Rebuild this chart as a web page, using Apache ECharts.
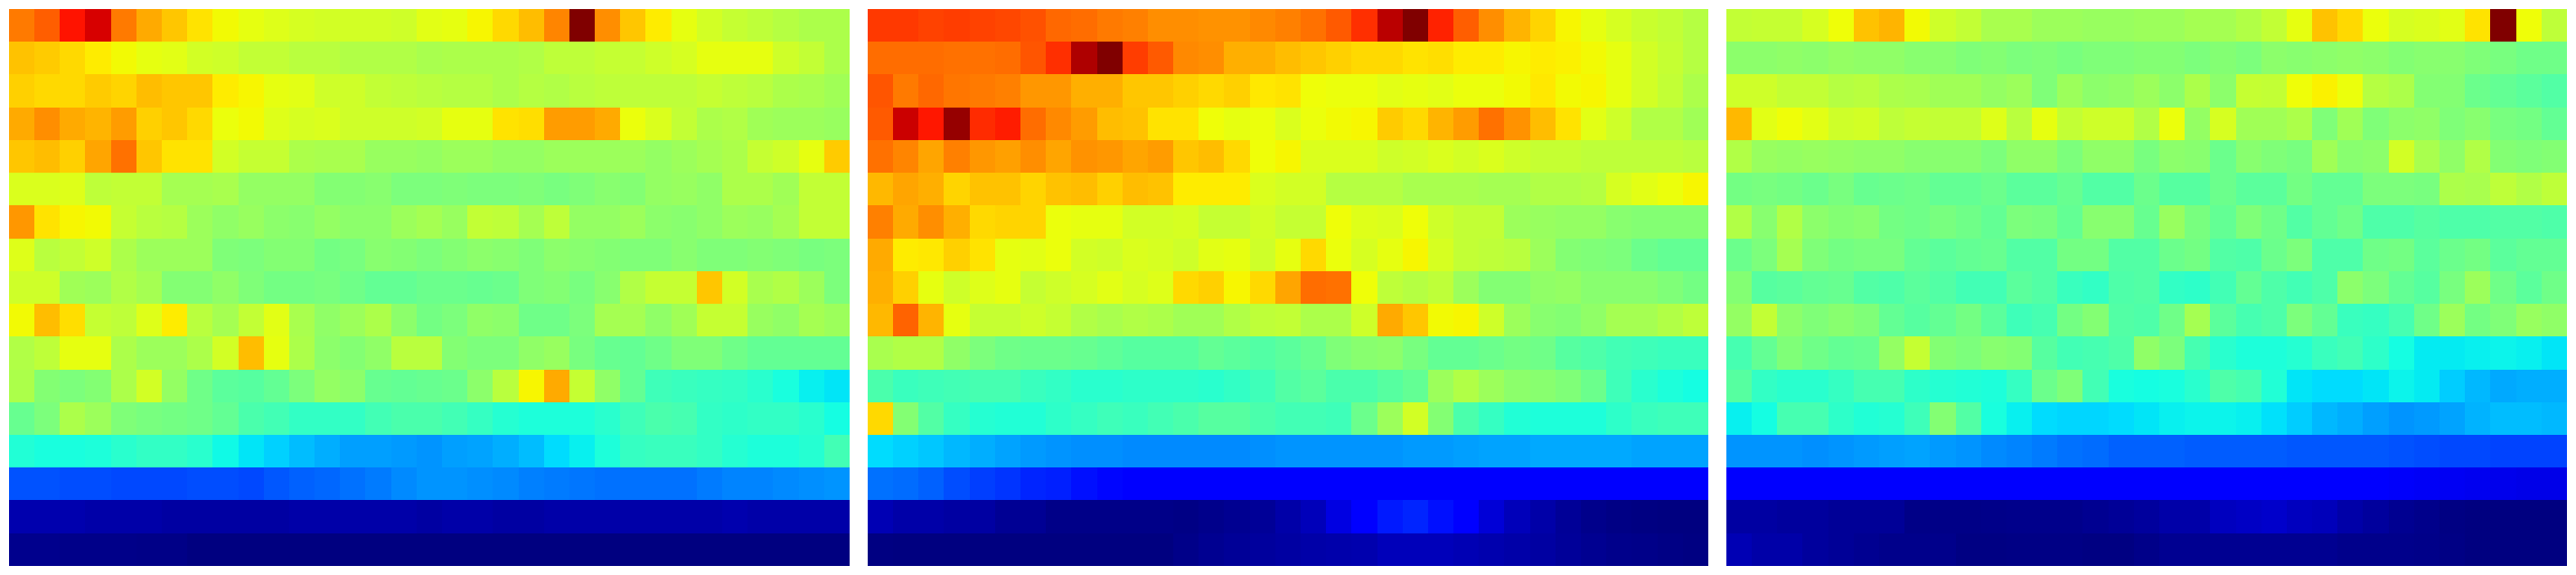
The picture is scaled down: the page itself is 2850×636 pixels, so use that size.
<!DOCTYPE html>
<html>
<head>
<meta charset="utf-8">
<style>html,body{margin:0;padding:0;background:#fff}#c{width:2850px;height:636px}</style>
<script src="https://cdn.jsdelivr.net/npm/echarts@6/dist/echarts.min.js"></script>
</head>
<body>
<div id="c"></div>
<script>
const valuesLeft = [
[78,81,89,92.5,78,73,70,67,64.5,63,62,61,60.5,60.5,60.5,60,62.5,63,65,68,71,77,100,76,70,66,63,60.5,59,58,57,56,56],
[70.5,69.5,68,66,64.5,63,62.5,60.5,60,58.5,58.5,57.5,57.5,56.5,56.5,56.5,55.5,56,56,56,56.5,58,58,59,59,60,61,63,63,63,60,58.5,56],
[69,68,68,69.5,68.5,71,70,70,66,65,63,62.5,60,60,58.5,58,57.5,57,57,56,57,56.5,57.5,58,58,58,58,59,58,57.5,56,55.5,54.5],
[73,76,73,72,74.5,69,70,68,63.5,64.5,62,61,61.5,60,60,60,60.5,63,63,67,67.5,74.5,74.5,73,63.5,61.5,58.5,56,56.5,54.5,54,54,53.5],
[70,71,69,73.5,79,70,67,67,60.5,59,59,56,55.5,55.5,53.5,53.5,53,54,54,53,53,54,54,54,54,53,54,55,56,59,60,63,69.5],
[61.5,61.5,62,58,58.5,58.5,55,55,55.5,53,53,53,51,51,51.5,50,50,50.5,50,50,50.5,49.5,50.5,51.5,51,53,53.5,52.5,56,56,54.5,58.5,58.5],
[75,67,65,64.5,59,57.5,57,54,52.5,53.5,52,51.5,53,52,52,54,55,53.5,58.5,58,55,58,53,53,54,52,51.5,52.5,54,53.5,55,58.5,58.5],
[62,57.5,58.5,60,56,54,54,54,50.5,50,51,51,49,49.5,51.5,51,50,51,52,51.5,50.5,52,51.5,51,50.5,50.5,51.5,50.5,50.5,51,50.5,49.5,50],
[60,60,54.5,54,56.5,55,51,51,52.5,50.5,49,49,49.5,48.5,47,47,48,48,47.5,48,50.5,51,49.5,51.5,56.5,59,59,70,60.5,55.5,56.5,54,50],
[64.5,71,67.5,59,58,62,66,57.5,55,58.5,62.5,55.5,52.5,54,56,52,49,50,52.5,52,48.5,48.5,50,55,55,52.5,54.5,59,59,53.5,52.5,55,54],
[56.5,58,63,63,56,54,54,56,60.5,71,63,56,52,51,52.5,57.5,57.5,51,50,50,52.5,53.5,49.5,47.5,47,48.5,50.5,50.5,48.5,47,47,47,47],
[56,51,50,51,56,60.5,53,48.5,46,45.5,47,50,53,52,47.5,47,47.5,48,52,57.5,65,73,59,52.5,47,42.5,42,41.5,41,40,38,36,35],
[47.5,50,56,54,50.5,49.5,49,48.5,47,44,43,41,41,41,43,44,44,43,41.5,39.5,38.5,38.5,38.5,40,42.5,44,43.5,41,40.5,41,41,40,37.5],
[39,38,38,38.5,40,41,41,40,37,35,33,31,29.5,28,28,27.5,27,28,28.5,29.5,31,34,36,38.5,41.5,42,42,41,39.5,38.5,38.5,39.5,43],
[20.5,20.5,20,20,19.5,19.5,19.5,20,20,19.5,21,22,22.5,23.5,24.5,26,27,27,26.5,26,25,24.5,24,23.5,23.5,23.5,23.5,24.5,25.5,25.5,26,26.5,27],
[4,4,4,3.5,3.5,3.5,3,3,3,3,3,3.5,3.5,3.5,3.5,3.5,3,3.5,3.5,3,3,3.5,3.5,3.5,3.5,3.5,3.5,3.5,4,3.5,3.5,3.5,3.5],
[1.2,1.2,0.8,0.8,0.8,0.6,0.6,0,0,0,0,0,0,0,0,0,0,0,0,0,0,0,0,0,0,0,0,0,0,0,0,0,0]
];

const valuesMiddle = [
[85,85,84,84.5,84,83.5,82.5,80,79.5,78,77.5,76,76,75.5,75.5,76.5,77.5,79,81.5,86,95,100,87.5,81,76,72,68.5,65,63,61,59.5,58.5,57],
[79.5,79.5,79.5,79,79,79.5,82,86,96,100,84.5,81.5,76.5,76,72.5,72.5,71,70,69,68,68,67,67.5,66,66,65,66,65.5,64.5,63,60.5,59,57],
[82,78,80,78.5,78,77.5,75,75,72.5,72.5,70,70,69,68,69,66.5,67,64,63.5,63.5,62.5,63,62.5,63.5,63.5,64.5,66.5,64.5,65,63,60.5,58.5,56],
[81.5,93.5,88.5,98,86.5,88,79.5,76.5,74.5,71,70.5,67,67,64,63,63.5,61.5,63.5,64.5,65,69.5,68,72,74.5,79,75.5,71,67,62.5,60,56.5,56.5,54.5],
[79,77,73.5,77.5,75,74,76,73.5,75.5,75,73.5,74.5,70,71,68,64,65,61.5,61.5,61.5,60,60.5,61.5,60.5,61.5,60,59,59,58,58,58,58,57.5],
[71.5,73.5,72.5,68.5,70.5,70.5,68.5,70.5,71,69,71,70.5,66,66,66,61.5,60.5,60.5,57,57,57,55.5,55.5,55.5,55,55,56.5,56.5,57,61,62.5,63.5,65],
[77.5,73,76,72.5,68,68.5,68.5,63.5,63,63,60.5,60.5,61,59,59,60.5,59,59,64,62,61.5,64,60,58.5,58.5,54,53.5,53,53,51.5,51,51,51],
[73,66,66.5,69,67,63,62.5,63.5,60.5,60,61.5,61,60,62.5,63,60,63,68,63.5,61,63,65,61,58.5,58,57.5,54,51,50.5,50,48,47,47],
[72.5,69,63,60,62,63,59,60,61,62.5,61,62,68,69,65,68,73.5,79.5,79,64,58,57,58,54,51,51,52.5,53,51.5,51.5,51.5,50.5,49],
[71.5,80.5,72,63,59,59,60,59,56.5,55.5,56.5,56,54.5,54.5,56.5,58,58.5,56,56,60,73,70,64.5,65,60,54,51.5,51,52.5,55,55,56.5,58],
[55.5,56.5,56.5,52.5,50,48.5,48,48,47.5,46.5,45.5,45.5,45.5,47,46,45,46,47.5,50.5,51.5,52,49.5,47,47,48,49,48.5,45.5,44.5,43,42.5,42,42],
[44,42,42.5,43,43.5,43.5,42,41,40,40,40.5,40.5,40.5,40,41,42.5,45,46,44,44,45.5,47,54,56.5,54,52,51.5,50.5,48,42.5,40,38.5,37.5],
[68,51,45,41.5,39.5,39,39,40.5,41.5,42.5,42,43,44,45.5,45.5,44,43,43,42.5,48,54,60.5,51,44,41.5,39,38.5,38.5,38.5,40.5,42,42.5,42.5],
[34,33,32,30.5,29.5,28.5,27.5,27,26.5,26.5,26,26,26,26,26,26.5,27,27,27,27,27,27.5,27.5,28,28.5,28.5,29,29,29,29,28.5,28.5,28.5],
[23.5,23,22,20,18.5,17.5,16,15.5,14,13,12.5,12.5,12.5,12.5,12.5,12.5,12.5,12.5,12.5,12.5,12.5,12.5,12.5,12.5,12.5,12.5,12.5,12.5,12.5,12.5,12.5,12.5,12.5],
[4.5,3.5,3.5,3,3,1.8,1.8,0.7,0.7,0.7,0.7,0.7,0.5,1,1.5,2,3.5,5,8.5,12.5,15,16,14,11,7.5,5,3.5,2,1,0.5,0.2,0,0],
[0.2,0,0,0,0,0,0,0,0,0,0,0,0.8,1.5,2,2.5,3,3.5,3.8,4,5,5,5,4.5,4,3.5,3,2.2,1.5,1,0.8,0.5,0.2]
];

const valuesRight = [
[58.5,59,59,61,64,70.5,72,64.5,60,58.5,55.5,55.5,54,54,53.5,53.5,54,54,55,55,56.5,58.5,63,70.5,68,63.5,61,61.5,62.5,67,100,64,58],
[52,52,52.5,52,53,52.5,52.5,51.5,51.5,50.5,51,50,50.5,49.5,50.5,50.5,51,51,50,51,50,52,51.5,52,52.5,52,51,51.5,51.5,50.5,49.5,48.5,48.5],
[60,60,58.5,58.5,57,57.5,56,55.5,54.5,54.5,53,54,50.5,54,52,52.5,54,52,56,52,59,58.5,64,65.5,63.5,57,56,51,51,48,47,46,45],
[71.5,62.5,64,62.5,60,60.5,58,59,58.5,58.5,62,57.5,63,58.5,60,60,56.5,63.5,53,61,54.5,54.5,56,50.5,54.5,50.5,52,52.5,50.5,51.5,49.5,49,47],
[56.5,53.5,53,53.5,53,52.5,52.5,51.5,51.5,51.5,50,52.5,52.5,50,52.5,52.5,49.5,52,51.5,48,51.5,50.5,49.5,54.5,51.5,52,60.5,55.5,52.5,56.5,51,50.5,51],
[49,49.5,49,48,49.5,47.5,48,48.5,47,47,48,46,46,47.5,45,45,48,45.5,45.5,48,46,46,49,47,47,50,50,49.5,56,55.5,58,56.5,58],
[56.5,51.5,56.5,52,51,51.5,49,48.5,49.5,48.5,47,50,49.5,47,51.5,51.5,47.5,53.5,49.5,47,50.5,48.5,45,47,48.5,44.5,44.5,45.5,44.5,44.5,45,45,44.5],
[48,50,55,50.5,49,49.5,49.5,47,46,47,47.5,45,45,49,49,45,45,48,49,45,44.5,48,50,44.5,44.5,48.5,49,46,48,49,46,47,47],
[51,45.5,46,47,47.5,45,44.5,46,45,43,43,46,45,42,41,44.5,45,41,40.5,43,47,44.5,43,44.5,52,50,47,45.5,49.5,54,48.5,46,48.5],
[53,58.5,52,50.5,51.5,50.5,47,45.5,47,49,46,42.5,43.5,49,51,45,44.5,48.5,55,46,43.5,44.5,50,47,42,41.5,43.5,48.5,54,49,50.5,53.5,52.5],
[43.5,47,50.5,48.5,47,47.5,53,59,51,50,51.5,51,45.5,43,43.5,44.5,52.5,50,43.5,40,38.5,38.5,39.5,42,43,40.5,37.5,35.5,35.5,36,36.5,36,35],
[45.5,41,40,40,41.5,43.5,43.5,40.5,39.5,39,38.5,41.5,48,50.5,43,38,37.5,38,40,44.5,43.5,39,35,34,34,35,36.5,35.5,32.5,30.5,29,29.5,29.5],
[36,37.5,43.5,43.5,40.5,39,39.5,42.5,51,45,38,36,34,33.5,33.5,34,35,36,36.5,36.5,36,34.5,32.5,30.5,29.5,28,27,27.5,28.5,30,31,31,30.5],
[27,27,27,26.5,27,27.5,28,28.5,27.5,27,26,25.5,24.5,23.5,23,22,22,22,21.5,21.5,21.5,21.5,21,21,21,21,20.5,20,19.5,19.5,19,19,19],
[12.5,12.5,12.5,12.5,12.5,12.5,12.5,12.5,12.5,12.5,12.5,12.5,12.5,12.5,12.5,12.5,12.5,12.5,12.5,12.5,12.3,12,12,11.7,11.3,11,10.7,10.3,10,9.7,9.3,9,9],
[3,3,2.5,2.5,2,2,2,0.6,0.6,0.6,0.8,1,1,1,1.5,2,2.5,3.5,3.5,5.5,6,6.5,5.5,5,3.5,2.5,1.5,1,0.3,0,0,0,0],
[4.5,3.5,3.5,2.5,2,1.5,1,1,1,0.3,0.3,0.5,0.5,0.5,0.2,0.2,0.8,1.5,1.5,1.5,1.5,1.5,1.5,1.5,1,1,1,0.8,0.5,0,0,0,0]
];

// Standard "jet" colour ramp, sampled for the visual map.
function jetColor(v) {
  const r = v < .35 ? 0 : v < .66 ? (v - .35) / .31 : v < .89 ? 1 : 1 - (v - .89) / .11 * .5;
  const g = v < .125 ? 0 : v < .375 ? (v - .125) / .25 : v < .64 ? 1 : v < .91 ? 1 - (v - .64) / .27 : 0;
  const b = v < .11 ? .5 + v / .11 * .5 : v < .34 ? 1 : v < .65 ? 1 - (v - .34) / .31 : 0;
  return 'rgb(' + [r, g, b].map(c => Math.round(c * 255)).join(',') + ')';
}
const jetColors = Array.from({length: 256}, (_, i) => jetColor(i / 255));

const panels = [valuesLeft, valuesMiddle, valuesRight];
const panelLefts = [10, 960, 1910];
const toCells = m => m.flatMap((row, y) => row.map((v, x) => [x, y, v]));
const cols = valuesLeft[0].map((_, i) => i);
const rows = valuesLeft.map((_, i) => i);
const snap = p => Math.round(p - 0.07);

function renderCell(params, api) {
  const c = api.coord([api.value(0), api.value(1)]);
  const s = api.size([1, 1]);
  const x0 = snap(c[0] - s[0] / 2), x1 = snap(c[0] + s[0] / 2);
  const y0 = snap(c[1] - s[1] / 2), y1 = snap(c[1] + s[1] / 2);
  return {
    type: 'rect',
    shape: {x: x0, y: y0, width: x1 - x0, height: y1 - y0},
    style: {fill: api.visual('color')}
  };
}

const chart = echarts.init(document.getElementById('c'), null, {renderer: 'canvas'});
chart.setOption({
  animation: false,
  backgroundColor: '#ffffff',
  tooltip: {show: false},
  grid: panelLefts.map(l => ({left: l, top: 10, width: 930, height: 616})),
  xAxis: panels.map((_, i) => ({type: 'category', gridIndex: i, data: cols, show: false})),
  yAxis: panels.map((_, i) => ({type: 'category', gridIndex: i, data: rows, inverse: true, show: false})),
  visualMap: {show: false, type: 'continuous', min: 0, max: 100, dimension: 2, seriesIndex: [0, 1, 2], inRange: {color: jetColors}},
  series: panels.map((m, i) => ({
    type: 'custom', xAxisIndex: i, yAxisIndex: i, data: toCells(m),
    encode: {x: 0, y: 1}, renderItem: renderCell,
    progressive: 0, silent: true
  }))
});
</script>
</body>
</html>
